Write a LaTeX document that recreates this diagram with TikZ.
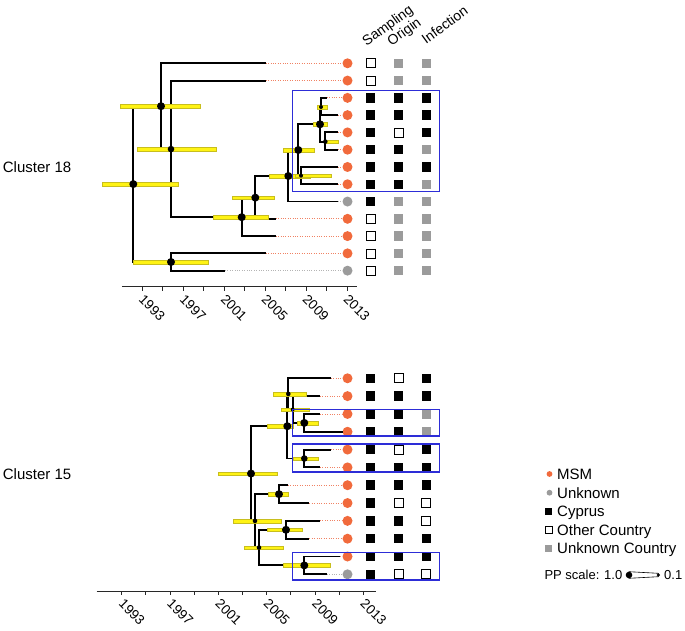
\documentclass[tikz,border=0pt]{standalone}
\usepackage{fontspec}
\setmainfont{Liberation Sans}
\usetikzlibrary{calc}
\definecolor{msm}{RGB}{241,106,60}
\definecolor{unk}{RGB}{155,155,155}
\definecolor{dotor}{RGB}{240,130,100}
\definecolor{dotgr}{RGB}{180,180,180}
\definecolor{hpdy}{RGB}{255,243,20}
\definecolor{hpde}{RGB}{200,190,30}
\definecolor{boxb}{RGB}{45,45,215}
\definecolor{sqgrey}{RGB}{155,155,155}
\definecolor{axc}{RGB}{40,40,40}
\newcommand\hpdbar[3]{\path[hpd] let \p1=(#1) in (#2pt,\y1+1.8pt) rectangle (#3pt,\y1-1.8pt);}
\begin{document}
\begin{tikzpicture}[x=1pt,y=-1pt,
  branch/.style={line width=1.9pt, line join=miter},
  hpd/.style={fill=hpdy, draw=hpde, line width=0.35pt},
  tipmsm/.style={circle, fill=msm, minimum size=10pt, inner sep=0pt},
  tipunk/.style={circle, fill=unk, minimum size=10pt, inner sep=0pt},
  dotmsm/.style={draw=dotor, line width=0.8pt, dash pattern=on 1pt off 1.4pt},
  dotunk/.style={draw=dotgr, line width=0.8pt, dash pattern=on 1pt off 1.4pt},
  sqblack/.style={fill=black, minimum size=9.5pt, inner sep=0pt},
  sqwhite/.style={fill=white, draw=black, line width=0.7pt, minimum size=9pt, inner sep=0pt},
  sqgray/.style={fill=sqgrey, minimum size=9.5pt, inner sep=0pt},
  bbox/.style={draw=boxb, line width=1.1pt},
  lab/.style={font=\fontsize{15}{18}\selectfont, inner sep=0pt, anchor=base west},
  yr/.style={font=\fontsize{13.5}{16}\selectfont, inner sep=0pt, rotate=-45, anchor=north west},
  hdr/.style={font=\fontsize{14}{16}\selectfont, inner sep=0pt, rotate=36, anchor=base west},
  axisl/.style={line width=0.9pt, draw=axc},
]
\useasboundingbox (0,0) rectangle (685,631);

% ---------------- Cluster 18 tips ----------------
\foreach \i/\ex/\c/\l/\s/\o/\f in {
  1/265.7/tipmsm/dotmsm/sqwhite/sqgray/sqgray, 2/265.7/tipmsm/dotmsm/sqwhite/sqgray/sqgray, 3/326.7/tipmsm/dotmsm/sqblack/sqblack/sqblack,
  4/337.7/tipmsm/dotmsm/sqblack/sqblack/sqblack, 5/337.7/tipmsm/dotmsm/sqblack/sqwhite/sqblack, 6/337.7/tipmsm/dotmsm/sqblack/sqblack/sqgray,
  7/337.7/tipmsm/dotmsm/sqblack/sqblack/sqblack, 8/337.7/tipmsm/dotmsm/sqblack/sqblack/sqgray, 9/337.7/tipunk/dotunk/sqblack/sqgray/sqgray,
  10/275.7/tipmsm/dotmsm/sqwhite/sqgray/sqgray, 11/275.7/tipmsm/dotmsm/sqwhite/sqgray/sqgray, 12/265.7/tipmsm/dotmsm/sqwhite/sqgray/sqgray,
  13/225/tipunk/dotunk/sqwhite/sqgray/sqgray} {
  \pgfmathsetmacro\ty{63.3+(\i-1)*17.28}
  \coordinate (ae\i) at (\ex,\ty);
  \node[\c] (ac\i) at (347.5,\ty) {};
  \node[\s] (as\i) at (370.5,\ty) {};
  \node[\o] (ao\i) at (398.5,\ty) {};
  \node[\f] (af\i) at (426.3,\ty) {};
  \draw[\l] (ae\i) -- (ac\i);
}

% ---------------- Cluster 15 tips ----------------
\foreach \i/\ex/\c/\l/\s/\o/\f in {
  1/330.7/tipmsm/dotmsm/sqblack/sqwhite/sqblack, 2/320/tipmsm/dotmsm/sqblack/sqblack/sqblack, 3/320/tipmsm/dotmsm/sqblack/sqblack/sqgray,
  4/343/tipmsm/dotmsm/sqblack/sqblack/sqgray, 5/330.7/tipmsm/dotmsm/sqblack/sqwhite/sqblack, 6/320/tipmsm/dotmsm/sqblack/sqblack/sqblack,
  7/287.7/tipmsm/dotmsm/sqblack/sqblack/sqblack, 8/309.3/tipmsm/dotmsm/sqblack/sqwhite/sqwhite, 9/320/tipmsm/dotmsm/sqblack/sqblack/sqwhite,
  10/309.3/tipmsm/dotmsm/sqblack/sqblack/sqblack, 11/340/tipmsm/dotmsm/sqblack/sqblack/sqblack, 12/326.7/tipunk/dotunk/sqblack/sqwhite/sqwhite} {
  \pgfmathsetmacro\ty{378.3+(\i-1)*17.82}
  \coordinate (be\i) at (\ex,\ty);
  \node[\c] (bc\i) at (347.5,\ty) {};
  \node[\s] (bs\i) at (370.5,\ty) {};
  \node[\o] (bo\i) at (398.5,\ty) {};
  \node[\f] (bf\i) at (426.3,\ty) {};
  \draw[\l] (be\i) -- (bc\i);
}

% ---------------- Cluster 18 internal nodes ----------------
\coordinate (aR) at (133.3,184.1);
\coordinate (aA) at (161,106.2);
\coordinate (aB) at (171,149.1);
\coordinate (aL) at (171,262);
\coordinate (aW) at (241.7,217.2);
\coordinate (aV) at (255.3,197.65);
\coordinate (aU) at (288.3,176);
\coordinate (aS) at (298.3,150);
\coordinate (aP) at (320,124.3);
\coordinate (aQ) at (321,107);
\coordinate (aRR) at (325.3,141.65);
\coordinate (aT) at (301,175.65);

\draw[branch] (aR) |- (aA);  \draw[branch] (aR) |- (aL);
\draw[branch] (aA) |- (ae1); \draw[branch] (aA) |- (aB);
\draw[branch] (aB) |- (ae2); \draw[branch] (aB) |- (aW);
\draw[branch] (aW) |- (aV);  \draw[branch] (aW) |- (ae11);
\draw[branch] (aV) |- (aU);  \draw[branch] (aV) |- (ae10);
\draw[branch] (aU) |- (aS);  \draw[branch] (aU) |- (ae9);
\draw[branch] (aS) |- (aP);  \draw[branch] (aS) |- (aT);
\draw[branch] (aP) |- (aQ);  \draw[branch] (aP) |- (aRR);
\draw[branch] (aQ) |- (ae3); \draw[branch] (aQ) |- (ae4);
\draw[branch] (aRR) |- (ae5); \draw[branch] (aRR) |- (ae6);
\draw[branch] (aT) |- (ae7); \draw[branch] (aT) |- (ae8);
\draw[branch] (aL) |- (ae12); \draw[branch] (aL) |- (ae13);

\hpdbar{aR}{102.3}{177.7}
\hpdbar{aA}{120}{200}
\hpdbar{aB}{136.7}{215.7}
\hpdbar{aL}{133.3}{208.3}
\hpdbar{aW}{213.3}{268.3}
\hpdbar{aV}{232.3}{274.3}
\hpdbar{aU}{269}{310}
\hpdbar{aT}{295}{330.7}
\hpdbar{aS}{282.7}{314}
\hpdbar{aP}{312.7}{327.3}
\hpdbar{aQ}{316.7}{326.7}
\hpdbar{aRR}{325}{338}

\fill (aR) circle[radius=4pt];
\fill (aA) circle[radius=4pt];
\fill (aB) circle[radius=3.3pt];
\fill (aL) circle[radius=4pt];
\fill (aW) circle[radius=4pt];
\fill (aV) circle[radius=4pt];
\fill (aU) circle[radius=4pt];
\fill (aS) circle[radius=4pt];
\fill (aP) circle[radius=4pt];
\fill (aQ) circle[radius=2pt];
\fill (aRR) circle[radius=2.3pt];
\fill (aT) circle[radius=2pt];

% ---------------- Cluster 15 internal nodes ----------------
\coordinate (bR) at (251,473.55);
\coordinate (bN1) at (287.3,426.2);
\coordinate (bN3) at (288.3,393.9);
\coordinate (bN4) at (292.7,409.5);
\coordinate (bN6) at (304.3,422.9);
\coordinate (bN5) at (304.3,458.5);
\coordinate (bN2) at (255,520.9);
\coordinate (bN7) at (259,547.6);
\coordinate (bN8) at (279,494.15);
\coordinate (bN9) at (286,529.8);
\coordinate (bN10) at (304.3,565.4);

\draw[branch] (bR) |- (bN1);  \draw[branch] (bR) |- (bN2);
\draw[branch] (bN1) |- (bN3); \draw[branch] (bN1) |- (bN5);
\draw[branch] (bN3) |- (be1); \draw[branch] (bN3) |- (bN4);
\draw[branch] (bN4) |- (be2); \draw[branch] (bN4) |- (bN6);
\draw[branch] (bN6) |- (be3); \draw[branch] (bN6) |- (be4);
\draw[branch] (bN5) |- (be5); \draw[branch] (bN5) |- (be6);
\draw[branch] (bN2) |- (bN8); \draw[branch] (bN2) |- (bN7);
\draw[branch] (bN8) |- (be7); \draw[branch] (bN8) |- (be8);
\draw[branch] (bN7) |- (bN9); \draw[branch] (bN7) |- (bN10);
\draw[branch] (bN9) |- (be9); \draw[branch] (bN9) |- (be10);
\draw[branch] (bN10) |- (be11); \draw[branch] (bN10) |- (be12);

\hpdbar{bR}{218.3}{276.7}
\hpdbar{bN1}{267}{293}
\hpdbar{bN3}{273.3}{306}
\hpdbar{bN4}{281}{309.3}
\hpdbar{bN6}{297}{318.3}
\hpdbar{bN5}{293.3}{318.3}
\hpdbar{bN2}{233.3}{280.7}
\hpdbar{bN7}{244.3}{283.3}
\hpdbar{bN8}{268.3}{288.3}
\hpdbar{bN9}{267.3}{301.7}
\hpdbar{bN10}{282.7}{330}

\fill (bR) circle[radius=4pt];
\fill (bN1) circle[radius=4pt];
\fill (bN3) circle[radius=2.3pt];
\fill (bN4) circle[radius=2pt];
\fill (bN6) circle[radius=4pt];
\fill (bN5) circle[radius=3.3pt];
\fill (bN2) circle[radius=2.3pt];
\fill (bN7) circle[radius=2.3pt];
\fill (bN8) circle[radius=4pt];
\fill (bN9) circle[radius=4pt];
\fill (bN10) circle[radius=4pt];

% ---------------- boxes ----------------
\draw[bbox] (292.7,90.7) rectangle (439.3,191.3);
\draw[bbox] (292.7,409.3) rectangle (439.3,436);
\draw[bbox] (292.7,444) rectangle (439.3,472);
\draw[bbox] (292.7,552.3) rectangle (439.3,580);

% ---------------- headers ----------------
\node[hdr] (hs) at (366.5,46.5) {Sampling};
\node[hdr] (ho) at (391.5,46.5) {Origin};
\node[hdr] (hi) at (426,44.5) {Infection};

% ---------------- cluster labels ----------------
\node[lab] (cl18) at (2.7,172.9) {Cluster 18};
\node[lab] (cl15) at (2.7,479.2) {Cluster 15};

% ---------------- axes ----------------
\coordinate (ta0) at (121.8,286.7);
\coordinate (ta1) at (357.3,286.7);
\draw[axisl] (ta0) -- (ta1);
\foreach \k in {0,...,10} {
  \pgfmathsetmacro\xx{142.3+\k*20.475}
  \draw[axisl] (\xx,286.7) -- (\xx,290.7);
}
\foreach \yy [count=\k from 0] in {1993,1997,2001,2005,2009,2013} {
  \pgfmathsetmacro\xx{142.3+\k*40.95+2.5}
  \node[yr] (tl\k) at (\xx,293.7) {\yy};
}
\coordinate (ba0) at (96.7,591);
\coordinate (ba1) at (376,591);
\draw[axisl] (ba0) -- (ba1);
\foreach \k in {0,...,10} {
  \pgfmathsetmacro\xx{121.7+\k*24.16}
  \draw[axisl] (\xx,591) -- (\xx,595);
}
\foreach \yy [count=\k from 0] in {1993,1997,2001,2005,2009,2013} {
  \pgfmathsetmacro\xx{121.7+\k*48.32+3}
  \node[yr] (bl\k) at (\xx,598) {\yy};
}

% ---------------- legend ----------------
\node[circle, fill=msm, minimum size=5.8pt, inner sep=0pt] (lg1) at (549.5,474) {};
\node[lab] (lt1) at (557,479.3) {MSM};
\node[circle, fill=unk, minimum size=5.8pt, inner sep=0pt] (lg2) at (549.5,492.7) {};
\node[lab] (lt2) at (557,498) {Unknown};
\node[fill=black, minimum size=7pt, inner sep=0pt] (lg3) at (548.5,511.3) {};
\node[lab] (lt3) at (557,516.6) {Cyprus};
\node[fill=white, draw=black, line width=0.6pt, minimum size=6.6pt, inner sep=0pt] (lg4) at (548.5,529.8) {};
\node[lab] (lt4) at (557,535.1) {Other Country};
\node[fill=sqgrey, minimum size=7pt, inner sep=0pt] (lg5) at (548.5,548) {};
\node[lab] (lt5) at (557,553.3) {Unknown Country};

\node[font=\fontsize{13}{16}\selectfont, inner sep=0pt, anchor=base east] (pp) at (622.5,579.7) {PP scale: 1.0};
\coordinate (ppa) at (629,575);
\coordinate (ppb) at (658.3,575);
\draw[line width=0.6pt, fill=white] ([yshift=3.3pt]ppa) -- ([yshift=1.7pt]ppb) -- ([yshift=-1.7pt]ppb) -- ([yshift=-3.3pt]ppa) -- cycle;
\fill (ppa) circle[radius=3.3pt];
\fill (ppb) circle[radius=1.7pt];
\node[font=\fontsize{13}{16}\selectfont, inner sep=0pt, anchor=base west] (pq) at (664,579.7) {0.1};
\end{tikzpicture}
\end{document}
